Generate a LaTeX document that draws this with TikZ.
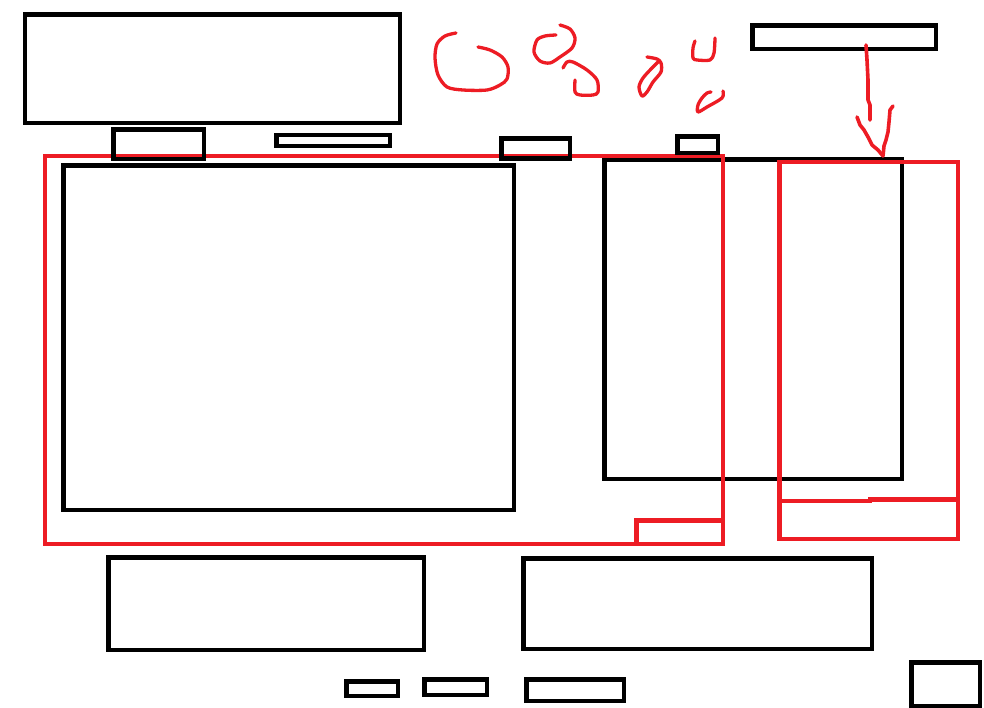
\documentclass[tikz,border=0pt]{standalone}
\usetikzlibrary{fit}
\definecolor{pred}{HTML}{ED1C24}
\begin{document}
\begin{tikzpicture}[x=1pt,y=-1pt,
  blackbox/.style={draw=black,line width=4.8pt,inner sep=0pt,outer sep=0pt,rectangle},
  redbox/.style={draw=pred,line width=4.4pt,inner sep=0pt,outer sep=0pt,rectangle},
  scribble/.style={draw=pred,line width=3.3pt,line cap=round,line join=round}]
\useasboundingbox[fill=white] (0,0) rectangle (984,708);
% black boxes
\node[blackbox,fit={(25,14.5) (400,123)}] (tl) {};
\node[blackbox,fit={(276.5,135) (390,146)}] (slot) {};
\node[blackbox,fit={(63.5,165.5) (514,510)}] (main) {};
\node[blackbox,fit={(604.5,159.5) (902,479)}] (mid) {};
\node[blackbox,fit={(752.5,25.5) (936,49)}] (tr) {};
\node[blackbox,fit={(108.5,557.5) (424,650)}] (bl) {};
\node[blackbox,fit={(523.5,558.5) (872,649)}] (bm) {};
\node[blackbox,fit={(346.5,681.5) (398,696)}] (s1) {};
\node[blackbox,fit={(424.5,679.5) (487,695)}] (s2) {};
\node[blackbox,fit={(526.5,679.5) (624,701)}] (s3) {};
\node[blackbox,fit={(911.5,662.5) (980,706)}] (br) {};
% red boxes
\node[redbox,fit={(45,156) (723,544)}] (redL) {};
\node[redbox,fit={(636.5,520.5) (723,544)}] (redS) {};
\node[redbox,fit={(779.5,162) (958,539)}] (redR) {};
\draw[draw=pred,line width=4.4pt] (redR.west |- 0,501) -- (870,501) -- (870,499.5) -- (redR.east |- 0,499.5);
% black tabs on top of red line
\node[blackbox,fit={(113.5,129.5) (204,159)}] (tab1) {};
\node[blackbox,fit={(501.5,138.5) (570,158.5)}] (tab2) {};
\node[blackbox,fit={(677.5,136.5) (718,153)}] (tab3) {};
% red arrow from tr to redR
\coordinate (a0) at (866,45);
\coordinate (tip) at (883,156);
\draw[scribble,line width=3.6pt] (a0) -- (867,60) -- (868,80) -- (868,100) -- (870,105) -- (870,120);
\draw[scribble,line width=3.6pt] (857,117) -- (860,125) -- (864,130) -- (868,137) -- (872,145) -- (878,150) -- (tip);
\draw[scribble,line width=3.6pt] (893,106) -- (890,110) -- (889,122) -- (888,132) -- (886,140) -- (884,146) -- (tip);
% scribbles
\draw[scribble] plot[smooth] coordinates {(456,33) (445,36) (437,44) (435,58) (438,75) (447,87) (463,90) (487,90) (500,85) (507,79) (508,67) (502,57) (490,50) (478,47)};
\draw[scribble] plot[smooth] coordinates {(556,35) (545,36) (537,40) (534,52) (540,61) (550,63) (560,57) (572,48) (575,38) (570,29) (560,25)};
\draw[scribble] plot[smooth] coordinates {(563,68) (567,62) (573,62) (587,70) (597,80) (598,92) (593,95) (580,95) (575,92) (575,80)};
\draw[scribble] plot[smooth] coordinates {(647,57) (657,59) (661,63) (661,72) (653,82) (647,92) (642,96) (639,87) (643,78) (652,68) (659,61)};
\draw[scribble] plot[smooth] coordinates {(695,41) (693,48) (693,58) (697,60) (710,60) (714,53) (715,38)};
\draw[scribble] plot[smooth] coordinates {(711,92) (707,93) (702,98) (698,105) (698,112) (707,107) (722,98) (723,91)};
\end{tikzpicture}
\end{document}
